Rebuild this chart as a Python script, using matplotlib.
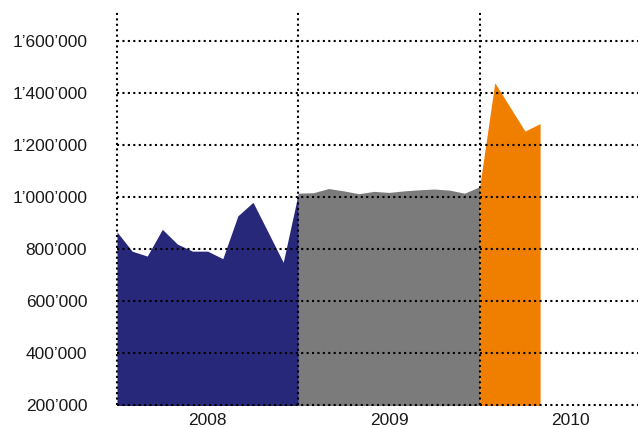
import matplotlib

matplotlib.use("Agg")
import matplotlib.pyplot as plt
from matplotlib.ticker import FuncFormatter, FixedLocator

plt.rcParams.update({
    "font.family": ["Liberation Sans", "DejaVu Sans"],
    "font.size": 12.5,
})

NAVY = "#28287A"
GRAY = "#7B7B7B"
ORANGE = "#F07F00"

# monthly values, x = month index from Jan 2008
months_2008 = list(range(0, 13))
values_2008 = [866000, 792000, 773000, 876000, 819000, 792000, 792000,
               763000, 928000, 980000, 865000, 749000, 1015000]
months_2009 = list(range(12, 25))
values_2009 = [1015000, 1017000, 1033000, 1024000, 1013000, 1022000, 1018000,
               1024000, 1028000, 1031000, 1027000, 1015000, 1040000]
months_2010 = list(range(24, 29))
values_2010 = [1040000, 1440000, 1347000, 1254000, 1283000]

year_labels = ["2008", "2009", "2010"]
year_centers = [6, 18, 30]
year_edges = [0, 12, 24, 36]
y_ticks = [200000, 400000, 600000, 800000, 1000000, 1200000, 1400000, 1600000]


def fmt(v, pos=None):
    return f"{int(v):,}".replace(",", "\u2019")


fig = plt.figure(figsize=(6.38, 4.28), dpi=100, facecolor="white")
ax = fig.add_axes([117 / 638, 1 - 405 / 428, 544 / 638, 395 / 428])

base = 0
ax.fill_between(months_2008, values_2008, base, color=NAVY, lw=0, zorder=2)
ax.fill_between(months_2009, values_2009, base, color=GRAY, lw=0, zorder=2)
ax.fill_between(months_2010, values_2010, base, color=ORANGE, lw=0, zorder=2)

ax.set_xlim(0, 36)
ax.set_ylim(200000, 1720000)

ax.yaxis.set_major_locator(FixedLocator(y_ticks))
ax.yaxis.set_major_formatter(FuncFormatter(fmt))
ax.set_xticks(year_centers)
ax.set_xticklabels(year_labels)

# dotted grid drawn on top of the areas, not clipped at the axes edge
dots = dict(color="black", linestyle=(0, (1, 1.6)), linewidth=1.5,
            zorder=3, clip_on=False)
for yv in y_ticks:
    ax.axhline(yv, **dots)
for xv in year_edges:
    ax.axvline(xv, **dots)

ax.tick_params(axis="both", which="both", length=0, colors="#1a1a1a")
ax.tick_params(axis="y", pad=21.5)
ax.tick_params(axis="x", pad=6)
for s in ax.spines.values():
    s.set_visible(False)

fig.savefig("out.png", dpi=100)
